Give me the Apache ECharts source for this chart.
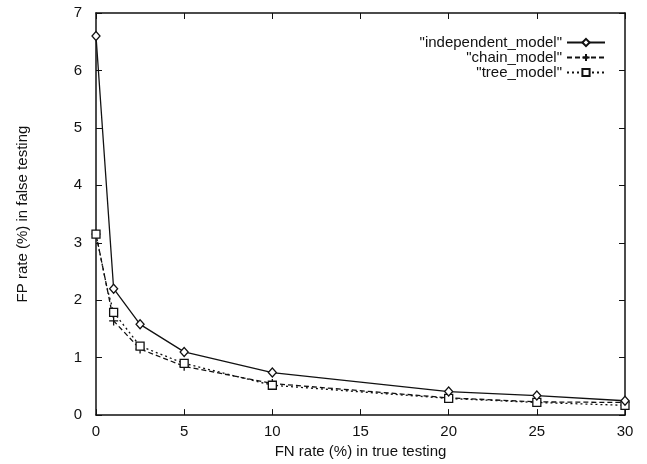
<!DOCTYPE html>
<html><head><meta charset="utf-8">
<script src="https://cdn.jsdelivr.net/npm/echarts@6/dist/echarts.min.js"></script>
<style>html,body{margin:0;padding:0;background:#fff}#c{width:647px;height:464px}</style>
</head><body><div id="c"></div>
<script>
const independentX = [0, 1, 2.5, 5, 10, 20, 25, 30];
const independentY = [6.6, 2.2, 1.58, 1.1, 0.74, 0.41, 0.34, 0.25];
const chainX = [0, 0.62, 1, 2.5, 5, 10, 20, 25, 30];
const chainY = [3.15, 2.22, 1.64, 1.15, 0.85, 0.55, 0.3, 0.23, 0.22];
const treeX = [0, 0.62, 1, 2.5, 5, 10, 20, 25, 30];
const treeY = [3.15, 2.22, 1.79, 1.2, 0.9, 0.52, 0.29, 0.22, 0.17];
const seriesNames = ['"independent_model"', '"chain_model"', '"tree_model"'];
const xTicks = [0, 5, 10, 15, 20, 25, 30];
const yTicks = [0, 1, 2, 3, 4, 5, 6, 7];
const xTitle = 'FN rate (%) in true testing';
const yTitle = 'FP rate (%) in false testing';
const hiddenMarkerX = 0.62;

const zip = (xs, ys) => xs.map((x, i) =>
  x === hiddenMarkerX ? {value: [x, ys[i]], symbol: 'none'} : [x, ys[i]]);
const font = 'Liberation Sans, Arial, sans-serif';
const ink = '#111';
const plus = 'path://M0,5L10,5M5,0L5,10';

const chart = echarts.init(document.getElementById('c'), null, {renderer: 'canvas'});
const axisCommon = {
  axisLine: {show: true, onZero: false, lineStyle: {color: ink, width: 1.5}},
  axisTick: {show: true, inside: true, length: 6, lineStyle: {color: ink, width: 1}},
  splitLine: {show: false}
};
chart.setOption({
  animation: false,
  backgroundColor: '#fff',
  grid: {left: 96, top: 13, right: 22, bottom: 48},
  legend: {
    right: 36, top: 30, orient: 'vertical', align: 'right',
    itemWidth: 38, itemHeight: 9, itemGap: 0,
    textStyle: {fontFamily: font, fontSize: 15, lineHeight: 14, color: ink},
    data: seriesNames
  },
  xAxis: [
    Object.assign({type: 'value', min: xTicks[0], max: xTicks[xTicks.length - 1], interval: 5,
      name: xTitle, nameLocation: 'middle', nameGap: 28,
      nameTextStyle: {fontFamily: font, fontSize: 15, color: ink},
      axisLabel: {fontFamily: font, fontSize: 15, color: ink, margin: 9}}, axisCommon),
    Object.assign({type: 'value', position: 'top', min: 0, max: 30, interval: 5,
      axisLabel: {show: false}}, axisCommon)
  ],
  yAxis: [
    Object.assign({type: 'value', min: yTicks[0], max: yTicks[yTicks.length - 1], interval: 1,
      name: yTitle, nameLocation: 'middle', nameGap: 66,
      nameTextStyle: {fontFamily: font, fontSize: 15, color: ink},
      axisLabel: {fontFamily: font, fontSize: 15, color: ink, margin: 14}}, axisCommon),
    Object.assign({type: 'value', position: 'right', min: 0, max: 7, interval: 1,
      axisLabel: {show: false}}, axisCommon)
  ],
  series: [
    {name: seriesNames[0], type: 'line', data: zip(independentX, independentY),
     symbol: 'diamond', symbolSize: [8, 9], showAllSymbol: true,
     lineStyle: {color: ink, width: 1.3, type: 'solid'},
     itemStyle: {color: '#fff', borderColor: ink, borderWidth: 1.3}, z: 3},
    {name: seriesNames[1], type: 'line', data: zip(chainX, chainY),
     symbol: plus, symbolSize: 9, showAllSymbol: true,
     lineStyle: {color: ink, width: 1.3, type: [5, 3]},
     itemStyle: {color: ink, borderColor: ink, borderWidth: 1.3}, z: 2},
    {name: seriesNames[2], type: 'line', data: zip(treeX, treeY),
     symbol: 'rect', symbolSize: 8, showAllSymbol: true,
     lineStyle: {color: ink, width: 1.3, type: [2, 3]},
     itemStyle: {color: '#fff', borderColor: ink, borderWidth: 1.3}, z: 2}
  ]
});
</script></body></html>
